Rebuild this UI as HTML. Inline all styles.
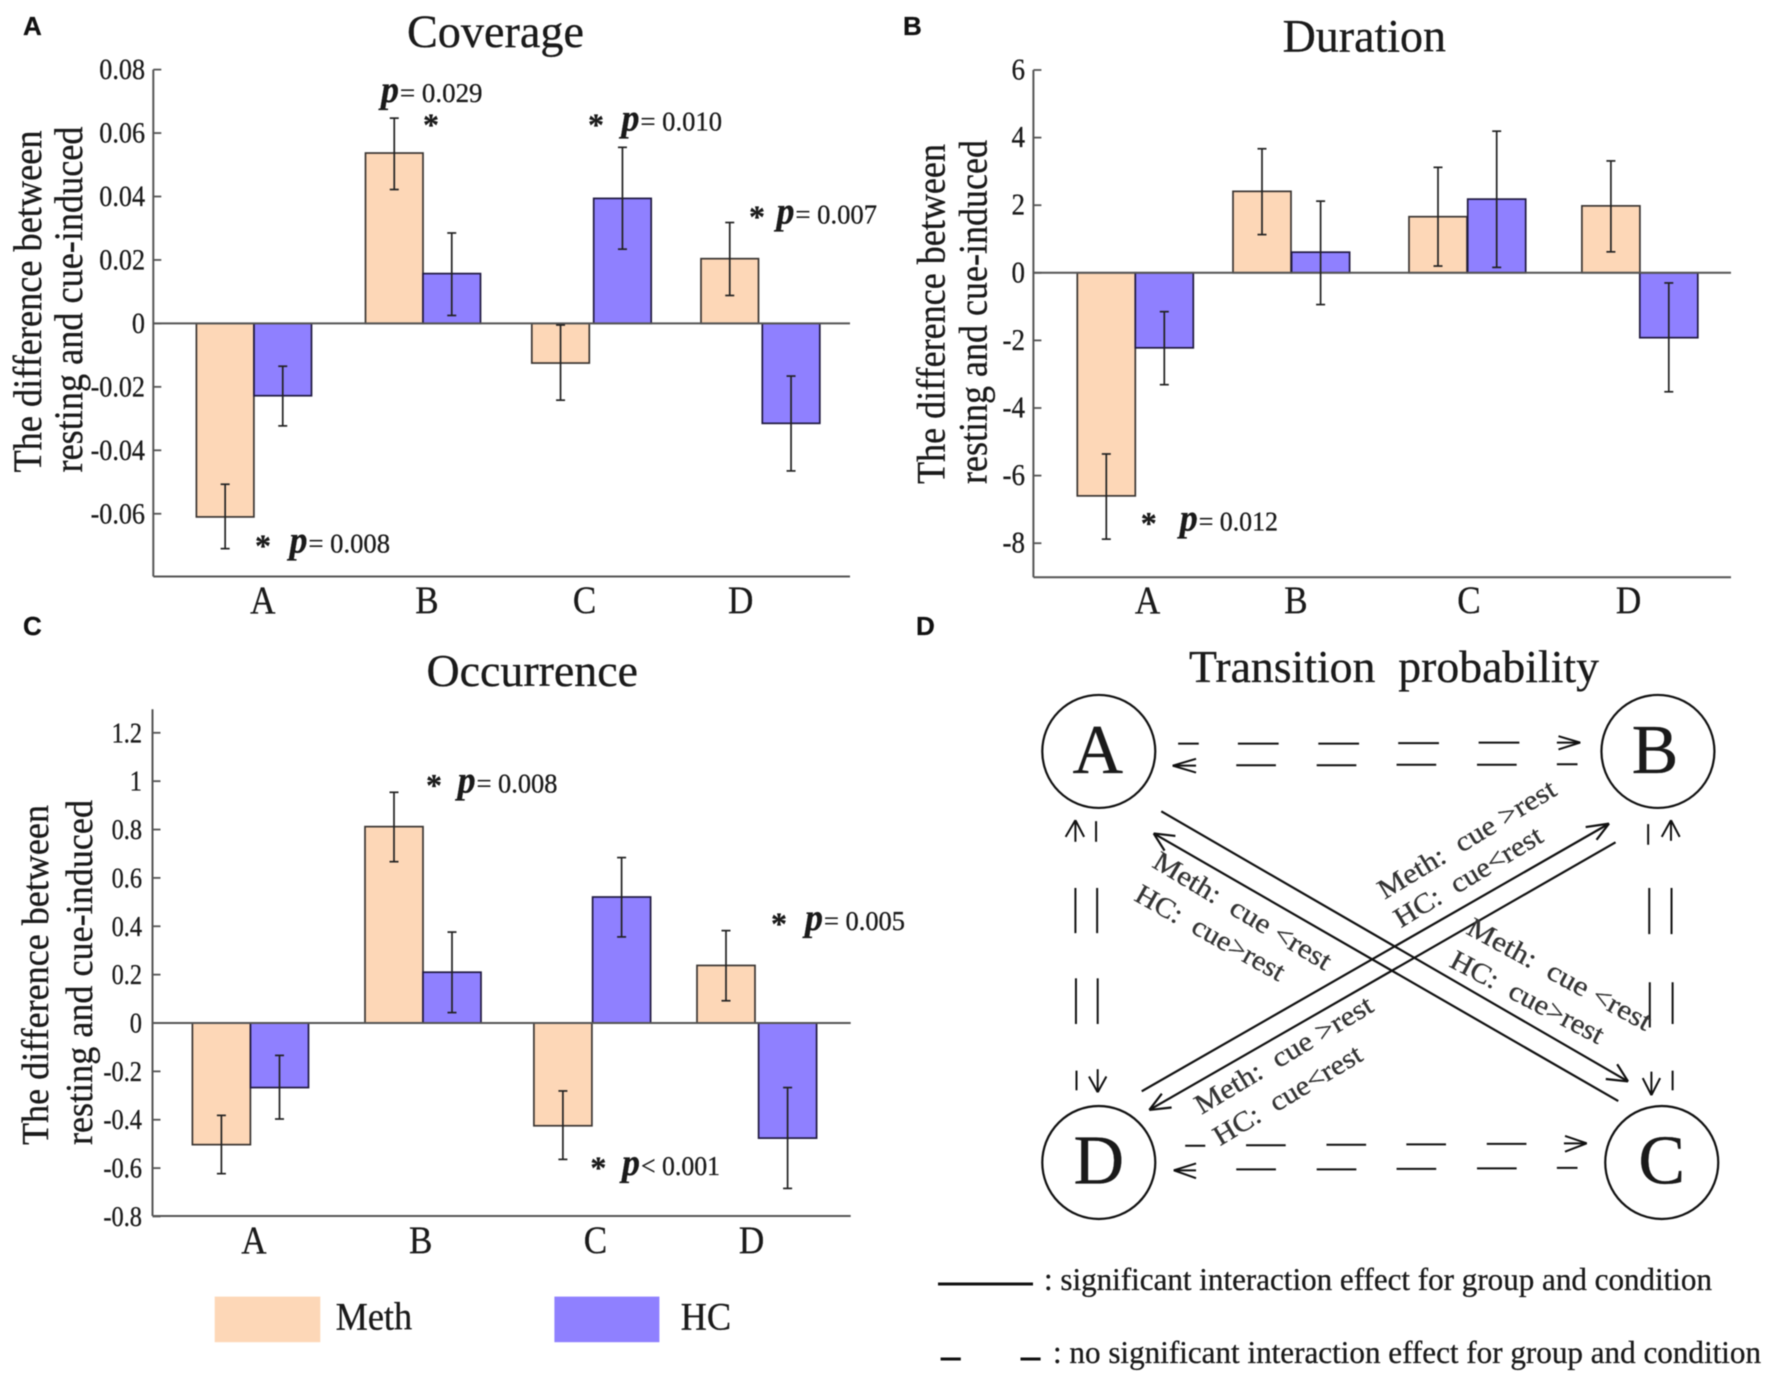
<!DOCTYPE html>
<html lang="en">
<head>
<meta charset="utf-8">
<title>Coverage, Duration, Occurrence and Transition probability</title>
<style>
html,body{margin:0;padding:0;background:#fff;width:1772px;height:1380px;overflow:hidden}
svg{display:block;filter:blur(0.45px)}
text{font-family:"Liberation Serif",serif;fill:#1a1a1a;stroke:#1a1a1a;stroke-width:.3px;white-space:pre}
.panel-letter{font-family:"Liberation Sans",sans-serif;font-weight:700;font-size:26px;fill:#111}
</style>
</head>
<body>
<svg id="figure" xmlns="http://www.w3.org/2000/svg" width="1772" height="1380" viewBox="0 0 1772 1380"></svg>
<script>
/* ---- chart data ---- */
const categories = ['A','B','C','D'];

const coverageTicks = [0.08,0.06,0.04,0.02,0,-0.02,-0.04,-0.06];
const coverageTickLabels = ['0.08','0.06','0.04','0.02','0','-0.02','-0.04','-0.06'];
const coverageMeth = [-0.061,0.0537,-0.0125,0.0204];
const coverageHC = [-0.0228,0.0157,0.0394,-0.0315];
const coverageMethHigh = [-0.0507,0.0647,-0.0005,0.0318];
const coverageMethLow = [-0.071,0.0422,-0.0242,0.0088];
const coverageHCHigh = [-0.0135,0.0285,0.0555,-0.0166];
const coverageHCLow = [-0.0323,0.0025,0.0234,-0.0465];

const durationTicks = [6,4,2,0,-2,-4,-6,-8];
const durationTickLabels = ['6','4','2','0','-2','-4','-6','-8'];
const durationMeth = [-6.6,2.41,1.66,1.98];
const durationHC = [-2.22,0.61,2.18,-1.92];
const durationMethHigh = [-5.36,3.67,3.12,3.31];
const durationMethLow = [-7.88,1.13,0.2,0.62];
const durationHCHigh = [-1.15,2.12,4.19,-0.3];
const durationHCLow = [-3.31,-0.94,0.16,-3.52];

const occurrenceTicks = [1.2,1,0.8,0.6,0.4,0.2,0,-0.2,-0.4,-0.6,-0.8];
const occurrenceTickLabels = ['1.2','1','0.8','0.6','0.4','0.2','0','-0.2','-0.4','-0.6','-0.8'];
const occurrenceMeth = [-0.503,0.812,-0.425,0.238];
const occurrenceHC = [-0.267,0.21,0.521,-0.476];
const occurrenceMethHigh = [-0.382,0.954,-0.281,0.382];
const occurrenceMethLow = [-0.623,0.667,-0.564,0.092];
const occurrenceHCHigh = [-0.134,0.376,0.684,-0.267];
const occurrenceHCLow = [-0.397,0.043,0.356,-0.684];

/* ---- drawing helpers ---- */
const NS = 'http://www.w3.org/2000/svg';
const root = document.getElementById('figure');
const METH = '#FDD7B7', HC = '#8F80FF', AXIS = '#555';

function mk(parent, tag, name, attrs){
  const el = document.createElementNS(NS, tag);
  
  
  for (const k in attrs) el.setAttribute(k, attrs[k]);
  parent.appendChild(el);
  return el;
}
function line(p, name, x1, y1, x2, y2, color, w){
  return mk(p, 'line', name, {x1:x1, y1:y1, x2:x2, y2:y2, stroke:color, 'stroke-width':w});
}
function txt(p, name, str, x, y, size, o){
  o = o || {};
  const a = {x:x, y:y, 'font-size':size};
  if (o.anchor) a['text-anchor'] = o.anchor;
  if (o.len){ a.textLength = o.len; a.lengthAdjust = 'spacingAndGlyphs'; }
  if (o.rot !== undefined) a.transform = 'rotate(' + o.rot + ' ' + x + ' ' + y + ')';
  if (o.weight) a['font-weight'] = o.weight;
  if (o.style) a['font-style'] = o.style;
  if (o.fill) a.style = 'fill:' + o.fill + ';stroke:' + o.fill;
  const el = mk(p, 'text', name, a);
  el.textContent = str;
  if (o.squeeze){
    const natural = el.getComputedTextLength();
    el.setAttribute('textLength', (natural * o.squeeze).toFixed(1));
    el.setAttribute('lengthAdjust', 'spacingAndGlyphs');
  }
  return el;
}
function annotation(p, name, starX, starY, pX, baseY, endX, rest){
  const g = mk(p, 'g', name, {});
  if (starX !== null) txt(g, 'significance-star', '*', starX, starY + 15, 32, {anchor:'middle', weight:'700'});
  txt(g, 'p-symbol', 'p', pX, baseY, 38, {weight:'700', style:'italic', len:18});
  txt(g, 'p-value', rest, pX + 19, baseY, 27, {len:endX - pX - 19});
}

function drawPanel(c){
  const g = mk(root, 'g', c.name, {});
  const yScale = v => c.y0 + (c.yRef - c.y0) * (v / c.vRef);

  txt(g, 'panel-title', c.title, c.titleX0, c.titleY, c.titleSize, {len:c.titleX1 - c.titleX0});
  txt(g, 'y-axis-title-line-1', 'The difference between', c.tx1, c.tyBase, c.tSize, {rot:-90, len:c.tlen1});
  txt(g, 'y-axis-title-line-2', 'resting and cue-induced', c.tx2, c.tyBase, c.tSize, {rot:-90, len:c.tlen2});

  const barW = c.barW;
  categories.forEach((cat, i) => {
    const mL = c.methLeft[i], hL = c.hcLeft[i];
    const mY = yScale(c.meth[i]), hY = yScale(c.hc[i]), zero = yScale(0);
    mk(g, 'rect', 'bar-meth-' + cat, {x:mL, y:Math.min(mY, zero), width:barW, height:Math.abs(mY - zero), fill:METH, stroke:'#3a3532', 'stroke-width':1.7});
    mk(g, 'rect', 'bar-hc-' + cat, {x:hL, y:Math.min(hY, zero), width:barW, height:Math.abs(hY - zero), fill:HC, stroke:'#201a40', 'stroke-width':1.7});
  });

  line(g, 'y-axis', c.axisX, c.axisTop, c.axisX, c.axisBottom, AXIS, 2);
  line(g, 'x-axis', c.axisX, c.axisBottom, c.axisRight, c.axisBottom, AXIS, 2);
  line(g, 'zero-line', c.axisX, yScale(0), c.axisRight, yScale(0), AXIS, 2);

  categories.forEach((cat, i) => {
    const cm = c.methLeft[i] + barW / 2, ch = c.hcLeft[i] + barW / 2;
    [[cm, c.methHigh[i], c.methLow[i], 'meth'], [ch, c.hcHigh[i], c.hcLow[i], 'hc']].forEach(e => {
      const hi = yScale(e[1]), lo = yScale(e[2]);
      line(g, 'error-bar-' + e[3] + '-' + cat, e[0], hi, e[0], lo, '#222', 1.7);
      line(g, 'error-cap-high-' + e[3] + '-' + cat, e[0] - 4.5, hi, e[0] + 4.5, hi, '#222', 1.7);
      line(g, 'error-cap-low-' + e[3] + '-' + cat, e[0] - 4.5, lo, e[0] + 4.5, lo, '#222', 1.7);
    });
    txt(g, 'x-tick-label-' + cat, cat, c.catX[i], c.catY, 39, {anchor:'middle', squeeze:0.9});
  });

  c.ticks.forEach((v, i) => {
    const y = yScale(v);
    line(g, 'y-tick', c.axisX, y, c.axisX + 8, y, AXIS, 1.8);
    txt(g, 'y-tick-label', c.tickLabels[i], c.labelRight, y + 9.5, c.tickSize, {anchor:'end', squeeze:0.87});
  });
  return g;
}

/* ---- panel A ---- */
const panelA = drawPanel({
  name:'coverage-panel', title:'Coverage', titleX0:407, titleX1:584, titleY:47, titleSize:47,
  y0:323.4, yRef:69.6, vRef:0.08, axisX:153.3, axisTop:69.6, axisBottom:576.5, axisRight:850,
  ticks:coverageTicks, tickLabels:coverageTickLabels, labelRight:145, tickSize:30,
  meth:coverageMeth, hc:coverageHC, methHigh:coverageMethHigh, methLow:coverageMethLow, hcHigh:coverageHCHigh, hcLow:coverageHCLow,
  methLeft:[196.4,365.5,531.8,701], hcLeft:[254,423,593.7,762.3], barW:57.5,
  catX:[262.8,427,584.6,740.7], catY:613,
  tx1:41, tx2:82, tyBase:472.5, tSize:40, tlen1:342, tlen2:346
});
annotation(panelA, 'annotation-b', 431, 120.6, 381, 102, 482.5, '= 0.029');
annotation(panelA, 'annotation-c', 596, 120.6, 621.5, 130.5, 722, '= 0.010');
annotation(panelA, 'annotation-d', 757, 212.7, 776.5, 223.4, 877, '= 0.007');
annotation(panelA, 'annotation-a', 263, 541.7, 289.5, 552.4, 390, '= 0.008');

/* ---- panel B ---- */
const panelB = drawPanel({
  name:'duration-panel', title:'Duration', titleX0:1282.6, titleX1:1446, titleY:51.4, titleSize:47,
  y0:272.8, yRef:70, vRef:6, axisX:1033.4, axisTop:70, axisBottom:577.3, axisRight:1731,
  ticks:durationTicks, tickLabels:durationTickLabels, labelRight:1025, tickSize:31,
  meth:durationMeth, hc:durationHC, methHigh:durationMethHigh, methLow:durationMethLow, hcHigh:durationHCHigh, hcLow:durationHCLow,
  methLeft:[1077.3,1233,1409,1581.9], hcLeft:[1135.3,1291.6,1467.7,1639.8], barW:58,
  catX:[1147.6,1296,1469,1628.6], catY:613,
  tx1:944.6, tx2:986.7, tyBase:484, tSize:40, tlen1:340, tlen2:344
});
annotation(panelB, 'annotation-a', 1148.8, 519, 1179.7, 530.6, 1278, '= 0.012');

/* ---- panel C ---- */
const panelC = drawPanel({
  name:'occurrence-panel', title:'Occurrence', titleX0:426.5, titleX1:638, titleY:686, titleSize:45,
  y0:1023, yRef:732.8, vRef:1.2, axisX:152.5, axisTop:709.2, axisBottom:1216, axisRight:850.7,
  ticks:occurrenceTicks, tickLabels:occurrenceTickLabels, labelRight:142, tickSize:28,
  meth:occurrenceMeth, hc:occurrenceHC, methHigh:occurrenceMethHigh, methLow:occurrenceMethLow, hcHigh:occurrenceHCHigh, hcLow:occurrenceHCLow,
  methLeft:[192.4,365,533.9,697], hcLeft:[250.5,423,592.6,758.6], barW:58,
  catX:[254,420.7,595.5,751.6], catY:1253,
  tx1:48, tx2:92, tyBase:1145, tSize:38, tlen1:340, tlen2:345
});
annotation(panelC, 'annotation-b', 434, 781, 457.6, 792.7, 557.4, '= 0.008');
annotation(panelC, 'annotation-d', 779, 919.4, 805, 930, 905, '= 0.005');
annotation(panelC, 'annotation-c', 598.4, 1163.5, 622, 1175, 720, '< 0.001');

/* legend */
const legend = mk(root, 'g', 'legend', {});
mk(legend, 'rect', 'legend-swatch-meth', {x:214.7, y:1296.6, width:105.6, height:45.6, fill:METH});
txt(legend, 'legend-label-meth', 'Meth', 335.6, 1329.5, 39, {len:76.5});
mk(legend, 'rect', 'legend-swatch-hc', {x:554.4, y:1296.6, width:105, height:45.6, fill:HC});
txt(legend, 'legend-label-hc', 'HC', 680.6, 1329.5, 39, {len:50.5});

/* panel letters */
[['A',23,35],['B',903,35],['C',23,635],['D',916,635]].forEach(l => {
  const el = txt(root, 'panel-letter-' + l[0], l[0], l[1], l[2], 26, {weight:'700'});
  el.setAttribute('class', 'panel-letter');
});

/* ---- panel D: state transition diagram ---- */
const D = mk(root, 'g', 'transition-probability-panel', {});
const px = x => 920 + x * 0.5434, py = y => 610 + y * 0.4911;
txt(D, 'panel-title', 'Transition  probability', 1189, 682, 46, {len:410});

[['A',329,288,332],['B',1358,288,332],['D',329,1125,1168],['C',1365,1125,1168]].forEach(n => {
  mk(D, 'circle', 'state-node-' + n[0], {cx:px(n[1]), cy:py(n[2]), r:56.5, fill:'#fff', stroke:'#111', 'stroke-width':2.2});
  txt(D, 'state-label-' + n[0], n[0], px(n[1]) - (n[0]==='A'?1:n[0]==='B'?3:0), py(n[3]), 70, {anchor:'middle'});
});

function seg(name, x1, y1, x2, y2, w){
  line(D, name, px(x1), py(y1), px(x2), py(y2), '#111', w || 2);
}
const dashSegments = [
  [475,272,513,272],[585,272,660,272],[733,272,808,272],[880,271,955,271],[1028,270,1103,270],[1172,270,1215,270],[1175,257,1215,270],[1175,284,1215,270],
  [465,317,508,317],[465,317,508,303],[465,317,508,331],[582,316,655,316],[730,316,803,316],[877,315,950,315],[1025,315,1098,315],[1172,314,1210,314],
  [488,1091,525,1091],[600,1090,673,1090],[748,1089,821,1089],[895,1088,968,1088],[1043,1087,1116,1087],[1185,1086,1227,1086],[1187,1071,1227,1086],[1187,1103,1227,1086],
  [467,1141,508,1141],[467,1141,508,1127],[467,1141,508,1157],[582,1139,655,1139],[730,1139,803,1139],[877,1138,950,1138],[1025,1137,1098,1137],[1172,1136,1210,1136],
  [286,428,286,472],[268,462,286,428],[302,462,286,428],[324,430,324,472],[286,566,286,658],[326,566,326,658],[287,750,287,843],[327,750,327,843],[288,938,288,978],[327,935,327,982],[311,950,327,982],[343,950,327,982],
  [1340,436,1340,478],[1382,428,1382,470],[1365,462,1382,428],[1398,462,1382,428],[1342,566,1342,660],[1383,566,1383,660],[1343,758,1343,850],[1385,758,1385,843],[1346,940,1346,988],[1330,953,1346,988],[1362,953,1346,988],[1385,938,1385,978]
];
dashSegments.forEach(s => seg('dashed-transition-segment', s[0], s[1], s[2], s[3], 2));

const solidSegments = [
  [444,410,1303,960],[1262,955,1303,960],[1283,925,1303,960],
  [1285,1000,430,455],[470,460,430,455],[450,490,430,455],
  [408,980,1268,435],[1225,442,1268,435],[1245,468,1268,435],
  [1280,473,422,1018],[463,1013,422,1018],[445,985,422,1018]
];
solidSegments.forEach(s => seg('significant-transition-segment', s[0], s[1], s[2], s[3], 2.2));

function diag(name, str, x1, y1, x2, y2){
  const X1 = px(x1), Y1 = py(y1), X2 = px(x2), Y2 = py(y2);
  const ang = Math.atan2(Y2 - Y1, X2 - X1) * 180 / Math.PI;
  txt(D, name, str, X1, Y1, 28, {rot:ang.toFixed(2), len:Math.hypot(X2 - X1, Y2 - Y1).toFixed(1), fill:'#333'});
}
diag('transition-label-meth', 'Meth:  cue <rest', 425, 522, 745, 735);
diag('transition-label-hc', 'HC:  cue>rest', 392, 590, 660, 757);
diag('transition-label-meth', 'Meth:  cue <rest', 1003, 658, 1335, 858);
diag('transition-label-hc', 'HC:  cue>rest', 972, 725, 1248, 885);
diag('transition-label-meth', 'Meth:  cue >rest', 855, 590, 1175, 375);
diag('transition-label-hc', 'HC:  cue<rest', 885, 648, 1150, 470);
diag('transition-label-meth', 'Meth:  cue >rest', 518, 1028, 838, 815);
diag('transition-label-hc', 'HC:  cue<rest', 552, 1092, 818, 915);

/* panel D key */
line(D, 'key-solid-line', 938, 1284, 1033, 1284, '#111', 3);
txt(D, 'key-solid-text', ': significant interaction effect for group and condition', 1044, 1290, 32, {len:668});
line(D, 'key-dash-left', 940.6, 1359, 960.8, 1359, '#111', 3);
line(D, 'key-dash-right', 1020.5, 1359, 1040.6, 1359, '#111', 3);
txt(D, 'key-dash-text', ': no significant interaction effect for group and condition', 1053, 1363, 32, {len:708});
</script>
</body>
</html>
